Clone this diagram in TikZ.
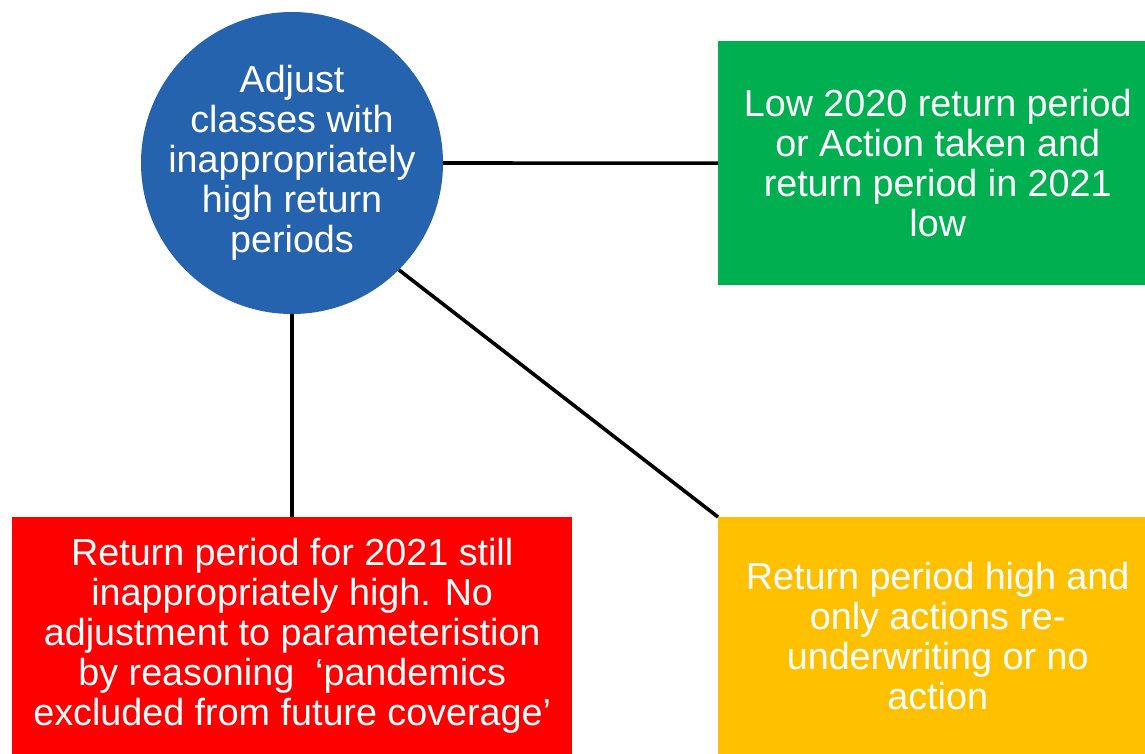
\documentclass[tikz,border=0pt]{standalone}
\usepackage{fontspec}
\setmainfont{Liberation Sans}
\definecolor{hubblue}{RGB}{38,99,174}
\definecolor{okgreen}{RGB}{0,176,80}
\definecolor{badred}{RGB}{255,0,0}
\definecolor{warnamber}{RGB}{255,192,0}
\tikzset{
  bodytext/.style={text=white, align=center, font=\fontsize{37.7}{40}\selectfont},
  hub/.style={circle, fill=hubblue, inner sep=0pt, minimum size=302pt},
  outcome/.style={rectangle, inner sep=0pt, anchor=north west, bodytext},
  link/.style={draw=black, line width=3.6pt}
}
\begin{document}
\begin{tikzpicture}[x=1pt, y=-1pt]
  \useasboundingbox (0,0) rectangle (1145,754);
  \clip (0,0) rectangle (1145,754);

  % central decision: text set as a centred label so the disc keeps its size
  \node[hub, label={[bodytext, inner sep=0pt]center:Adjust\\classes with\\inappropriately\\high return\\periods}]
    (hub) at (292,163) {};

  % outcome boxes
  \node[outcome, fill=okgreen, minimum width=439pt, minimum height=244pt]
    (green) at (718,41)
    {Low 2020 return period\\or Action taken and\\return period in 2021\\low};
  \node[outcome, fill=badred, minimum width=560pt, minimum height=237pt]
    (red) at (12,517)
    {Return period for 2021 still\\inappropriately high. No\\adjustment to parameteristion\\by reasoning~ ‘pandemics\\excluded from future coverage’};
  \node[outcome, fill=warnamber, minimum width=439pt, minimum height=237pt]
    (amber) at (718,517)
    {Return period high and\\only actions re-\\underwriting or no\\action};

  % connectors
  \draw[link] (hub.east) -- (green.west);
  \draw[link] (hub.south) -- (red.north -| hub.south);
  \draw[link] (hub.south east) -- (amber.north west);
\end{tikzpicture}
\end{document}
